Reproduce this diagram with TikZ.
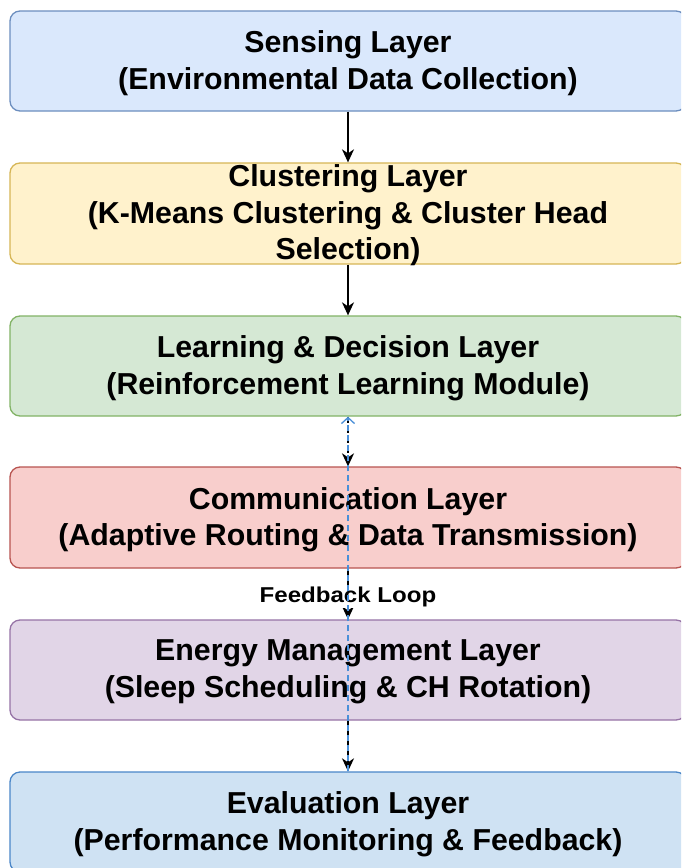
\documentclass[tikz,border=0pt]{standalone}
\usepackage{fontspec}
\setmainfont{Liberation Sans}
\newfontfamily\fbfont[FakeStretch=1.12]{Liberation Sans}
\usetikzlibrary{arrows.meta}
\definecolor{f1}{HTML}{DAE8FC}\definecolor{d1}{HTML}{6C8EBF}
\definecolor{f2}{HTML}{FFF2CC}\definecolor{d2}{HTML}{D6B656}
\definecolor{f3}{HTML}{D5E8D4}\definecolor{d3}{HTML}{82B366}
\definecolor{f4}{HTML}{F8CECC}\definecolor{d4}{HTML}{B85450}
\definecolor{f5}{HTML}{E1D5E7}\definecolor{d5}{HTML}{9673A6}
\definecolor{f6}{HTML}{CFE2F3}\definecolor{d6}{HTML}{4A86C8}
\definecolor{fb}{HTML}{4A8FD8}
\begin{document}
\begin{tikzpicture}[x=1pt,y=1pt,
  layerbox/.style={draw, rounded corners=10pt, line width=1.3pt, minimum width=676pt, minimum height=100pt, inner sep=0pt},
  layertext/.style={align=center, font=\fontsize{30.3}{36.5}\selectfont\bfseries, inner sep=0pt, yshift=-2pt},
  flow/.style={-{Stealth[length=13pt,width=12pt,inset=4pt]}, line width=1.5pt, black},
  dflow/.style={flow, dash pattern=on 6pt off 4pt},
  fback/.style={fb, line width=1.3pt, dash pattern=on 6pt off 4pt, -{Straight Barb[length=6pt,width=13pt,line width=1.3pt]}}
]
\useasboundingbox (0,0) rectangle (681,-868);
\clip (0,0) rectangle (681,-868);
\fill[white] (0,0) rectangle (681,-868);
\node[layerbox, fill=f1, draw=d1] (s1) at (348,-61) {};
\node[layerbox, fill=f2, draw=d2, minimum height=101pt] (s2) at (348,-213.5) {};
\node[layerbox, fill=f3, draw=d3] (s3) at (348,-366) {};
\node[layerbox, fill=f4, draw=d4, minimum height=101pt] (s4) at (348,-517.5) {};
\node[layerbox, fill=f5, draw=d5] (s5) at (348,-670) {};
\node[layerbox, fill=f6, draw=d6] (s6) at (348,-822) {};
\node[layertext] (t1) at (s1) {Sensing Layer\\(Environmental Data Collection)};
\node[layertext] (t2) at (s2) {Clustering Layer\\(K-Means Clustering \& Cluster Head\\Selection)};
\node[layertext] (t3) at (s3) {Learning \& Decision Layer\\(Reinforcement Learning Module)};
\node[layertext] (t4) at (s4) {Communication Layer\\(Adaptive Routing \& Data Transmission)};
\node[layertext] (t5) at (s5) {Energy Management Layer\\(Sleep Scheduling \& CH Rotation)};
\node[layertext] (t6) at (s6) {Evaluation Layer\\(Performance Monitoring \& Feedback)};
\draw[flow] (s1.south) -- (s2.north);
\draw[flow] (s2.south) -- (s3.north);
\draw[dflow] (s3.south) -- (s4.north);
\draw[dflow] (s4.south) -- node[fill=white, inner sep=1pt, yshift=-3pt, font=\fbfont\fontsize{21.5}{24}\selectfont\bfseries] (fl) {Feedback Loop} (s5.north);
\draw[dflow] (s5.south) -- (s6.north);
\draw[fback] (s6.north) -- (s3.south);
\end{tikzpicture}
\end{document}
